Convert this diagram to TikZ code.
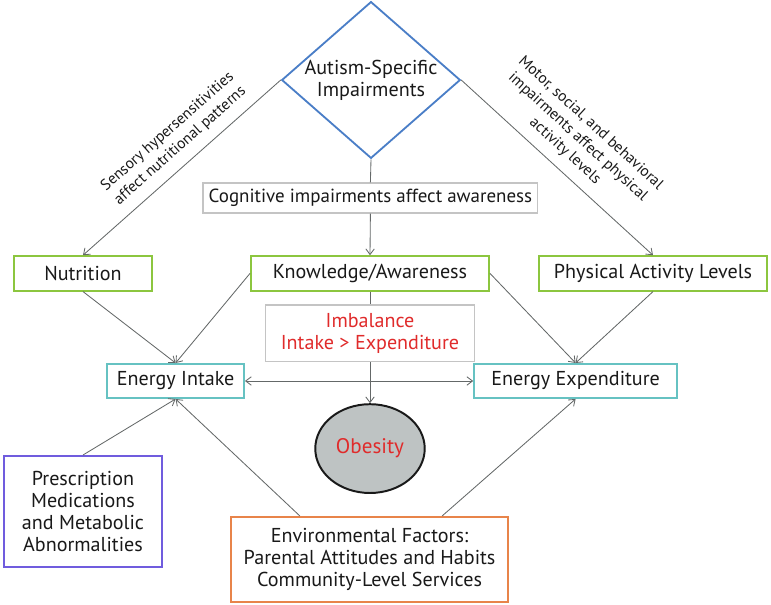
\documentclass[tikz,border=0pt]{standalone}
\usepackage{fontspec}
\setmainfont{PT Sans}
\usepackage{xcolor}
\usepackage{tikz}
\usetikzlibrary{shapes.geometric, arrows.meta, positioning, calc}

\definecolor{ASIBlue}{RGB}{74,126,199}
\definecolor{ASIGreen}{RGB}{140,198,63}
\definecolor{ASITeal}{RGB}{102,194,194}
\definecolor{ASIGray}{RGB}{196,196,196}
\definecolor{ASIRed}{RGB}{224,43,43}
\definecolor{ASIPurple}{RGB}{112,92,222}
\definecolor{ASIOrange}{RGB}{232,132,74}
\definecolor{ASIFill}{RGB}{190,195,195}
\definecolor{ASILine}{RGB}{100,104,104}
\definecolor{ASIText}{RGB}{25,25,25}

\newcommand{\asifont}{\fontsize{14.3}{15.6}\selectfont}
\newcommand{\asinote}{\fontsize{13.5}{15.6}\selectfont}
\newcommand{\asismall}{\fontsize{11}{13.5}\selectfont}

\tikzset{
  hub/.style={
    diamond, aspect=1.14, inner sep=0pt,
    minimum width=4.4cm, minimum height=3.85cm,
    draw=ASIBlue, line width=1.3pt, fill=white,
    align=center, font=\asifont, text=ASIText
  },
  factor/.style={
    rectangle, minimum height=0.86cm,
    draw=ASIGreen, line width=1.4pt, fill=white,
    font=\asifont, text=ASIText
  },
  energy/.style={
    rectangle, minimum height=0.85cm,
    draw=ASITeal, line width=1.4pt, fill=white,
    font=\asifont, text=ASIText
  },
  note/.style={
    rectangle, draw=ASIGray, line width=0.8pt, fill=white,
    align=center, font=\asinote, text=ASIText
  },
  source/.style={
    rectangle, line width=1.4pt, fill=white,
    align=center, font=\asifont, text=ASIText
  },
  outcome/.style={
    ellipse, minimum width=2.55cm, minimum height=2.22cm,
    draw=ASIText, line width=1.4pt, fill=ASIFill,
    font=\fontsize{15}{17}\selectfont, text=ASIRed
  },
  arr/.style={-{Straight Barb[length=4pt,width=6pt]}, draw=ASILine, line width=0.6pt},
  darr/.style={{Straight Barb[length=4pt,width=6pt]}-{Straight Barb[length=4pt,width=6pt]}, draw=ASILine, line width=0.6pt},
  line/.style={draw=ASILine, line width=0.6pt},
  lbl/.style={font=\asismall, text=ASIText, align=center, sloped, above, inner sep=7pt}
}

\begin{document}
\begin{tikzpicture}
  \useasboundingbox (0,0) rectangle (19.275,15.125);

  % Top node
  \node[hub] (autism) at (9.275, 13.125) {Autism-Specific\\Impairments};
  \node[note, minimum width=8.37cm, minimum height=0.75cm] (cog) at (9.26, 10.175)
       {Cognitive impairments affect awareness};

  % Middle row
  \node[factor, minimum width=3.47cm] (nutr) at (2.075, 8.29) {Nutrition};
  \node[factor, minimum width=5.95cm] (know) at (9.25, 8.29) {Knowledge/Awareness};
  \node[factor, minimum width=5.7cm]  (phys) at (16.325, 8.29) {Physical Activity Levels};

  \node[note, font=\asifont, minimum width=5.22cm, minimum height=1.42cm, text=ASIRed] (imbal) at (9.25, 6.79)
       {Imbalance\\Intake > Expenditure};

  \node[energy, minimum width=3.42cm] (intake) at (4.39, 5.6) {Energy Intake};
  \node[energy, minimum width=5.07cm] (expend) at (14.39, 5.6) {Energy Expenditure};

  \node[outcome] (obesity) at (9.25, 3.91) {Obesity};

  % Bottom sources
  \node[source, draw=ASIPurple, minimum width=3.95cm, minimum height=2.77cm] (presc) at (2.075, 2.34)
       {Prescription\\Medications\\and Metabolic\\Abnormalities};
  \node[source, draw=ASIOrange, minimum width=6.92cm, minimum height=2.12cm] (env) at (9.24, 1.14)
       {Environmental Factors:\\Parental Attitudes and Habits\\Community-Level Services};

  % Arrows
  \draw[arr] (autism.west) -- node[lbl, pos=0.45] {Sensory hypersensitivities\\affect nutritional patterns} (nutr.north);
  \draw[arr] (autism.east) -- node[lbl, pos=0.48] {Motor, social, and behavioral\\impairments affect physical\\activity levels} (phys.north);
  \draw[line] (autism.south) -- (cog.north);
  \draw[arr] (cog.south) -- (know.north);
  \draw[arr] (nutr.south) -- (intake.north);
  \draw[arr] (know.west) -- (intake.north);
  \draw[arr] (know.east) -- (expend.north);
  \draw[arr] (phys.south) -- (expend.north);
  \draw[line] (know.south) -- (imbal.north);
  \draw[arr] (imbal.south) -- (obesity.north);
  \draw[darr] (intake.east) -- (expend.west);
  \draw[arr] (presc.north) -- (intake.south);
  \draw[arr] ($(env.north west)!0.25!(env.north east)$) -- (intake.south);
  \draw[arr] ($(env.north west)!0.76!(env.north east)$) -- (expend.south);
\end{tikzpicture}
\end{document}
